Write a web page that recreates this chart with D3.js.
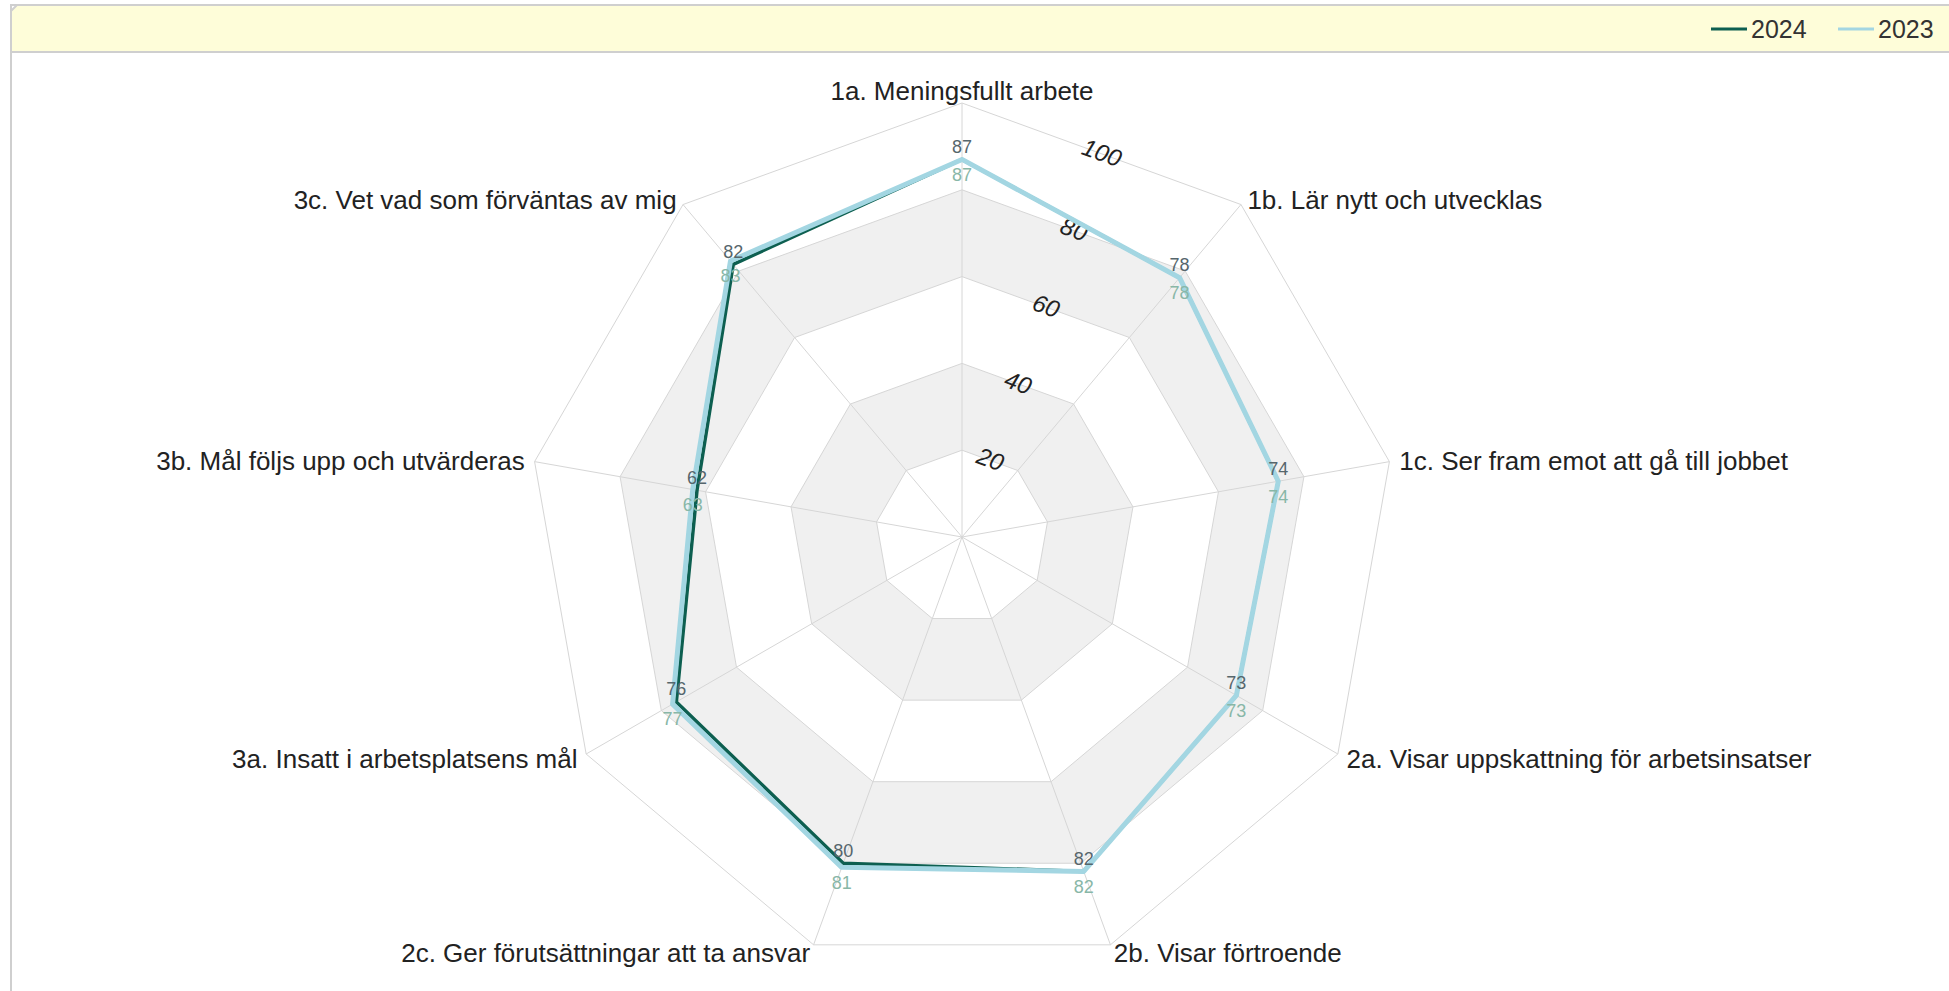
<!DOCTYPE html>
<html>
<head>
<meta charset="utf-8">
<script src="https://cdn.jsdelivr.net/npm/d3@7"></script>
<style>
  body { margin: 0; background: #fff; }
  svg { display: block; font-family: "Liberation Sans", Arial, sans-serif; }
</style>
</head>
<body>
<script>
const w = 1949;
const h = 991;

// data
const categories = [
  "1a. Meningsfullt arbete",
  "1b. Lär nytt och utvecklas",
  "1c. Ser fram emot att gå till jobbet",
  "2a. Visar uppskattning för arbetsinsatser",
  "2b. Visar förtroende",
  "2c. Ger förutsättningar att ta ansvar",
  "3a. Insatt i arbetsplatsens mål",
  "3b. Mål följs upp och utvärderas",
  "3c. Vet vad som förväntas av mig"
];
const values2024 = [87, 78, 74, 73, 82, 80, 76, 62, 82];
const values2023 = [87, 78, 74, 73, 82, 81, 77, 63, 83];
const seriesNames = ["2024", "2023"];
const ringTicks = [20, 40, 60, 80, 100];

const color2024 = "#0d5f50";
const color2023 = "#a3d6e2";

const cx = 962, cy = 537, R = 434;

const svg = d3.select("body").append("svg")
  .attr("width", w)
  .attr("height", h);

// panel + yellow header
svg.append("rect")
  .attr("x", 11).attr("y", 5)
  .attr("width", w + 10).attr("height", h + 10)
  .attr("fill", "#fff")
  .attr("stroke", "#cfcfcf")
  .attr("stroke-width", 2);

svg.append("path")
  .attr("d", `M11,52 L11,11 L17,5 L${w + 5},5 L${w + 5},52 Z`)
  .attr("fill", "#fefdd9")
  .attr("stroke", "#cfcfcf")
  .attr("stroke-width", 2);

const rScale = d3.scaleLinear().domain([0, 100]).range([0, R]);
const aScale = d3.scaleLinear().domain([0, categories.length]).range([0, 2 * Math.PI]);

const ring = v => d3.lineRadial()
  .angle((d, i) => aScale(i))
  .radius(() => rScale(v))
  .curve(d3.curveLinearClosed)(categories);

const chart = svg.append("g").attr("transform", `translate(${cx},${cy})`);

// bands: filled from outside in so that 20-40 and 60-80 are grey
[100, 80, 60, 40, 20].forEach((v, i) => {
  chart.append("path")
    .attr("d", ring(v))
    .attr("fill", i % 2 === 1 ? "#f0f0f0" : "#fff")
    .attr("stroke", "none");
});

// spokes
chart.selectAll(".spoke")
  .data(categories)
  .enter()
  .append("line")
  .attr("class", "spoke")
  .attr("x1", 0).attr("y1", 0)
  .attr("x2", (d, i) => rScale(100) * Math.sin(aScale(i)))
  .attr("y2", (d, i) => -rScale(100) * Math.cos(aScale(i)))
  .attr("stroke", "#d6d6d6")
  .attr("stroke-width", 1);

// ring outlines
chart.selectAll(".ring")
  .data(ringTicks)
  .enter()
  .append("path")
  .attr("class", "ring")
  .attr("d", d => ring(d))
  .attr("fill", "none")
  .attr("stroke", "#d6d6d6")
  .attr("stroke-width", 1);

// ring tick labels, along the edge between 1a and 1b
const half = aScale(0.5);
chart.selectAll(".ringlabel")
  .data(ringTicks)
  .enter()
  .append("text")
  .attr("class", "ringlabel")
  .attr("transform", d => {
    const dist = rScale(d) * Math.cos(half);
    return `translate(${dist * Math.sin(half)},${-dist * Math.cos(half)}) rotate(${half * 180 / Math.PI})`;
  })
  .attr("text-anchor", "middle")
  .attr("dy", "0.3em")
  .attr("font-size", 24)
  .attr("font-style", "italic")
  .attr("fill", "#222")
  .text(d => d);

// category labels
chart.selectAll(".catlabel")
  .data(categories)
  .enter()
  .append("text")
  .attr("class", "catlabel")
  .attr("x", (d, i) => (rScale(100) + 10) * Math.sin(aScale(i)))
  .attr("y", (d, i) => -(rScale(100) + (i === 0 ? 12 : 8)) * Math.cos(aScale(i)) + (i === 0 ? 0 : 1))
  .attr("dy", "0.35em")
  .attr("text-anchor", (d, i) => {
    const s = Math.sin(aScale(i));
    return s > 0.1 ? "start" : (s < -0.1 ? "end" : "middle");
  })
  .attr("font-size", 26)
  .attr("fill", "#222")
  .text(d => d);

// series
const line = d3.lineRadial()
  .angle((d, i) => aScale(i))
  .radius(d => rScale(d))
  .curve(d3.curveLinearClosed);

chart.append("path")
  .attr("d", line(values2024))
  .attr("fill", "none")
  .attr("stroke", color2024)
  .attr("stroke-width", 3.5)
  .attr("stroke-linejoin", "round");

chart.append("path")
  .attr("d", line(values2023))
  .attr("fill", "none")
  .attr("stroke", color2023)
  .attr("stroke-width", 5)
  .attr("stroke-linejoin", "round");

// data labels: 2024 above the point, 2023 below
chart.selectAll(".lab2024")
  .data(values2024)
  .enter()
  .append("text")
  .attr("x", (d, i) => rScale(d) * Math.sin(aScale(i)))
  .attr("y", (d, i) => -rScale(d) * Math.cos(aScale(i)) - 13)
  .attr("dy", "0.35em")
  .attr("text-anchor", "middle")
  .attr("font-size", 18)
  .attr("fill", "#56666c")
  .text(d => d);

chart.selectAll(".lab2023")
  .data(values2023)
  .enter()
  .append("text")
  .attr("x", (d, i) => rScale(d) * Math.sin(aScale(i)))
  .attr("y", (d, i) => -rScale(d) * Math.cos(aScale(i)) + 15)
  .attr("dy", "0.35em")
  .attr("text-anchor", "middle")
  .attr("font-size", 18)
  .attr("fill", "#88b7a7")
  .text(d => d);

// legend
const legend = svg.append("g");
const legendX = [1711, 1838];
const legendColors = [color2024, color2023];
seriesNames.forEach((name, i) => {
  legend.append("line")
    .attr("x1", legendX[i]).attr("x2", legendX[i] + 36)
    .attr("y1", 29).attr("y2", 29)
    .attr("stroke", legendColors[i])
    .attr("stroke-width", 3);
  legend.append("text")
    .attr("x", legendX[i] + 40)
    .attr("y", 29)
    .attr("dy", "0.35em")
    .attr("font-size", 25)
    .attr("fill", "#333")
    .text(name);
});
</script>
</body>
</html>
